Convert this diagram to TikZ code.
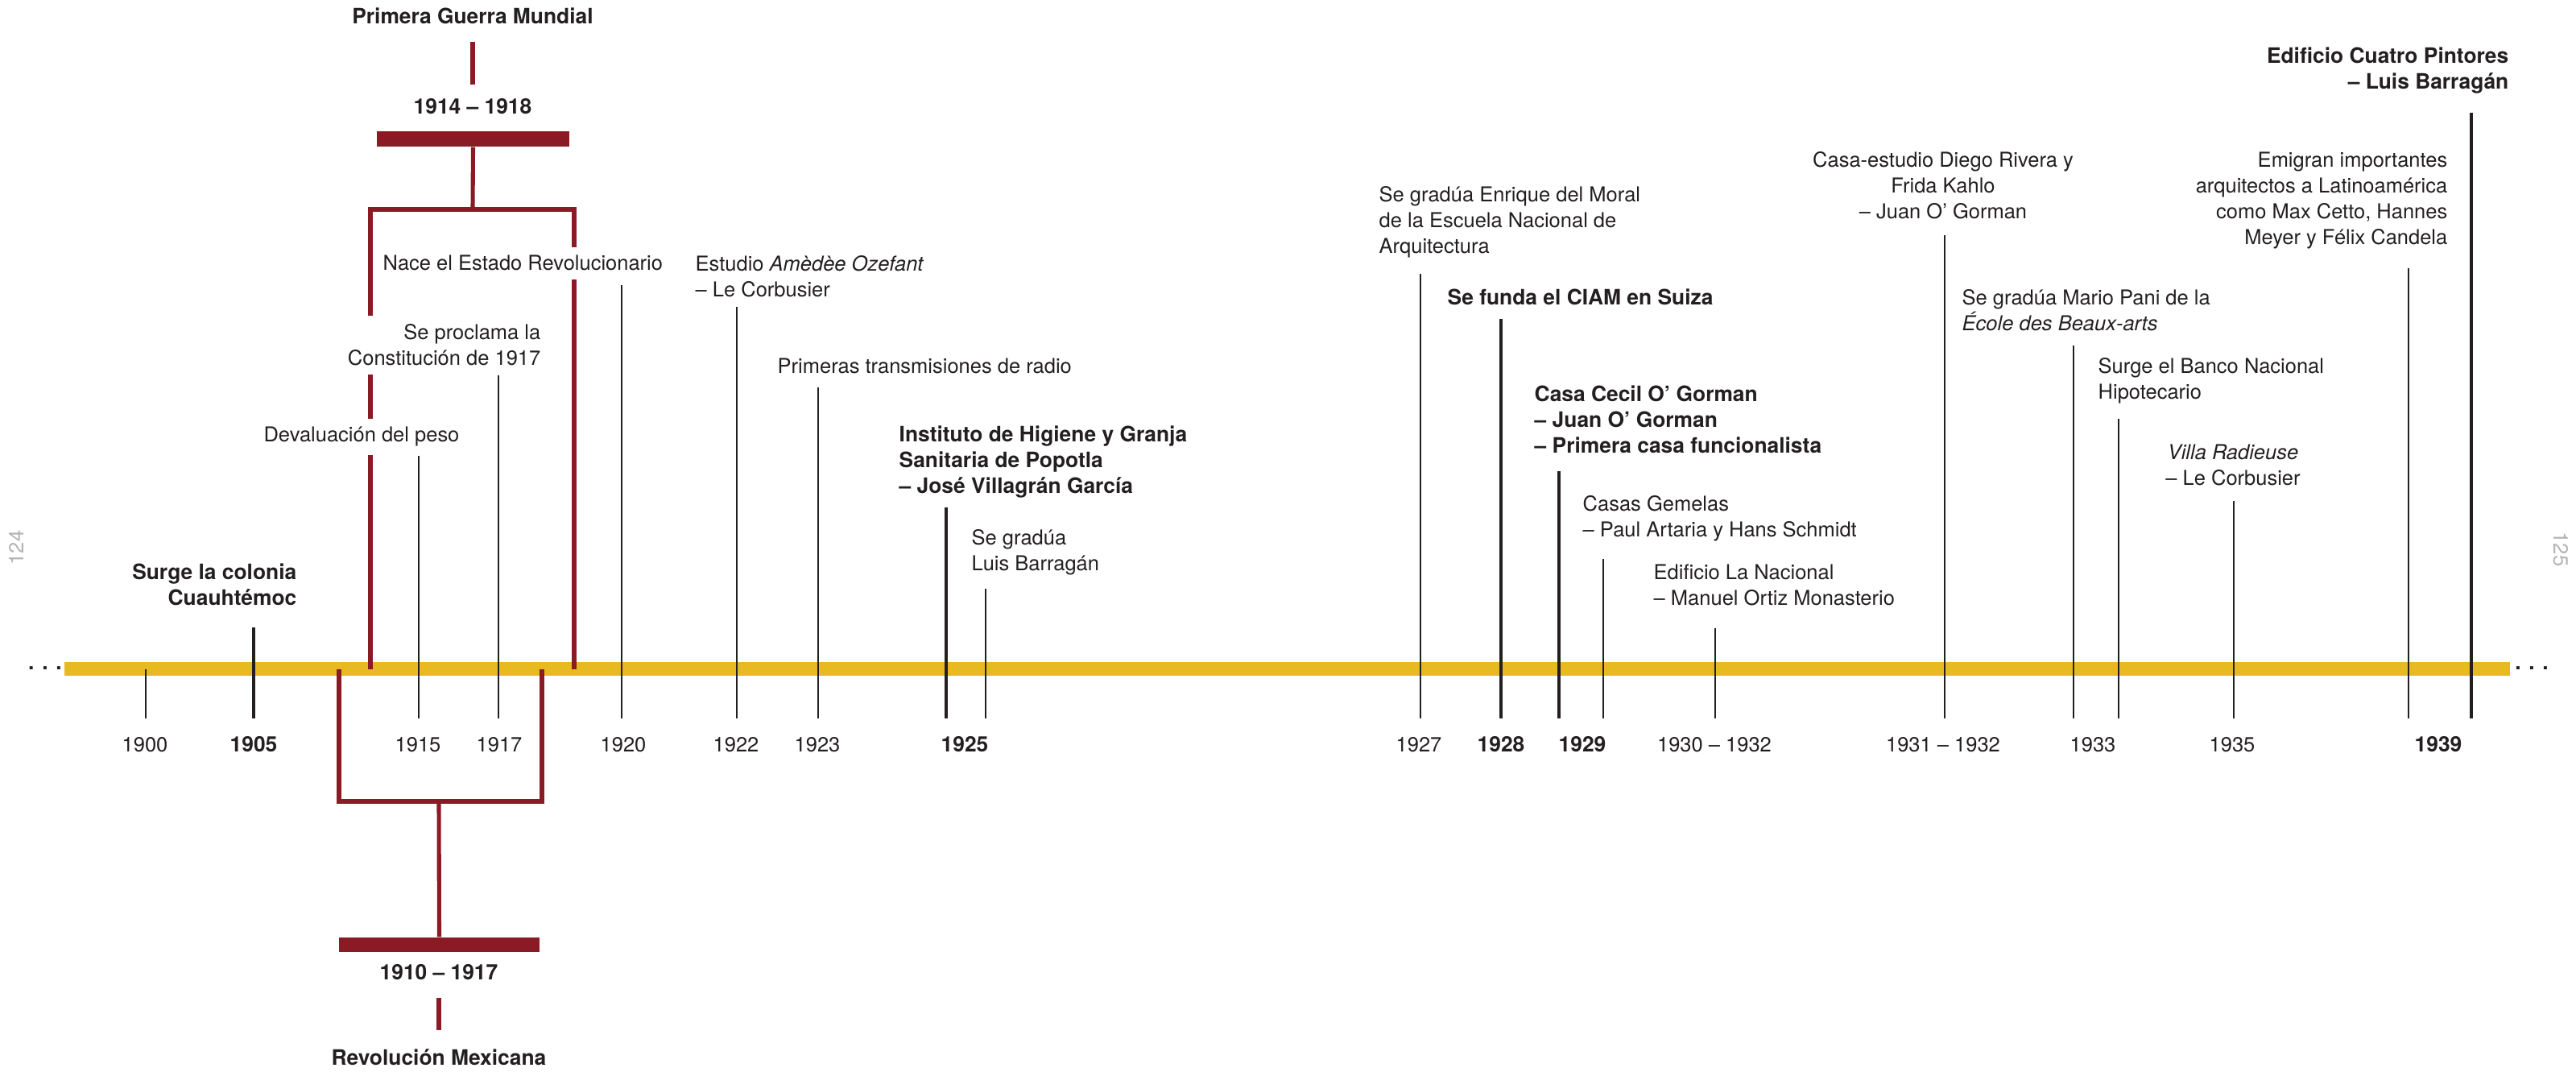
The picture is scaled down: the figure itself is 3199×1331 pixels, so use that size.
\documentclass[tikz,border=0pt]{standalone}
\usepackage{fontspec}
\setmainfont{TeX Gyre Heros}
\usetikzlibrary{calc}

\definecolor{rojo}{HTML}{8A1A24}
\definecolor{amarillo}{HTML}{E8BA22}
\definecolor{tinta}{HTML}{231F20}
\definecolor{gris}{HTML}{B4B4B4}

\tikzset{
    txt/.style={font=\fontsize{7.25}{9.1}\selectfont, text=tinta, inner sep=0pt},
    negrita/.style={txt, font=\fontsize{7.5}{9.1}\selectfont\bfseries},
    izq/.style={align=left, anchor=base west},
    der/.style={align=right, anchor=base east},
    cen/.style={align=center, anchor=base},
    tapa/.style={fill=white, inner ysep=3pt},
    anio/.style={txt, anchor=base},
    anio fuerte/.style={negrita, anchor=base},
    hito/.style={draw=tinta, line width=0.5pt},
    hito fuerte/.style={draw=tinta, line width=1.4pt},
    brazo/.style={draw=rojo, line width=1.45pt},
    barra/.style={fill=rojo, inner sep=0pt}
}

\begin{document}
\begin{tikzpicture}[x=0.01cm, y=-0.01cm]
    \useasboundingbox (0, 0) rectangle (3199, 1331);

    % linea del tiempo
    \fill[amarillo] (80, 822) rectangle (3117, 839);
    \node[negrita, anchor=base] (ini) at (56, 832) {. . .};
    \node[negrita, anchor=base] (fin) at (3144, 832) {. . .};

    % Primera Guerra Mundial
    \node[negrita, anchor=base] (pgm) at (587, 30) {Primera Guerra Mundial};
    \node[negrita, anchor=base] (agm) at (587, 142) {1914 – 1918};
    \node[barra, minimum width=2.39cm, minimum height=0.19cm] (gm) at (587.5, 172.5) {};
    \coordinate (g1) at (460, 831);
    \coordinate (g2) at (713, 831);
    \coordinate (gc) at (587, 260);
    \draw[brazo, shorten <=0.21cm, shorten >=0.17cm] (pgm.south) -- (agm.north);
    \draw[brazo] (gm.south) -- (gc);
    \draw[brazo] (g1) |- (gc) -| (g2);

    % Revolucion Mexicana
    \node[barra, minimum width=2.49cm, minimum height=0.18cm] (rm) at (545.5, 1173) {};
    \node[negrita, anchor=base] (arm) at (545, 1216) {1910 – 1917};
    \node[negrita, anchor=base] (prm) at (545, 1322) {Revolución Mexicana};
    \coordinate (r1) at (421, 831);
    \coordinate (r2) at (673, 831);
    \coordinate (rc) at (545, 995);
    \draw[brazo, shorten <=0.225cm, shorten >=0.22cm] (arm.south) -- (prm.north);
    \draw[brazo] (rc) -- (rm.north);
    \draw[brazo] (r1) |- (rc) -| (r2);

    % hitos
    \coordinate (base) at (0, 892);
    \coordinate (t1900) at (181, 831);
    \coordinate (t1905) at (315, 779);
    \coordinate (t1915) at (520, 566);
    \coordinate (t1917) at (619, 466);
    \coordinate (t1920) at (772, 354);
    \coordinate (t1922) at (915, 381);
    \coordinate (t1923) at (1016, 481);
    \coordinate (t1925) at (1175, 630);
    \coordinate (t1925b) at (1224, 731);
    \coordinate (t1927) at (1764, 340);
    \coordinate (t1928) at (1864, 396);
    \coordinate (t1929) at (1936, 585);
    \coordinate (t1929b) at (1991, 694);
    \coordinate (t1930) at (2130, 780);
    \coordinate (t1931) at (2415, 292);
    \coordinate (t1933) at (2575, 429);
    \coordinate (t1933b) at (2631, 520);
    \coordinate (t1935) at (2774, 622);
    \coordinate (t1938) at (2991, 333);
    \coordinate (t1939) at (3069, 140);

    \draw[hito] (t1900) -- (t1900 |- base);
    \draw[hito fuerte] (t1905) -- (t1905 |- base);
    \draw[hito] (t1915) -- (t1915 |- base);
    \draw[hito] (t1917) -- (t1917 |- base);
    \draw[hito] (t1920) -- (t1920 |- base);
    \draw[hito] (t1922) -- (t1922 |- base);
    \draw[hito] (t1923) -- (t1923 |- base);
    \draw[hito fuerte] (t1925) -- (t1925 |- base);
    \draw[hito] (t1925b) -- (t1925b |- base);
    \draw[hito] (t1927) -- (t1927 |- base);
    \draw[hito fuerte] (t1928) -- (t1928 |- base);
    \draw[hito fuerte] (t1929) -- (t1929 |- base);
    \draw[hito] (t1929b) -- (t1929b |- base);
    \draw[hito] (t1930) -- (t1930 |- base);
    \draw[hito] (t1931) -- (t1931 |- base);
    \draw[hito] (t1933) -- (t1933 |- base);
    \draw[hito] (t1933b) -- (t1933b |- base);
    \draw[hito] (t1935) -- (t1935 |- base);
    \draw[hito] (t1938) -- (t1938 |- base);
    \draw[hito fuerte] (t1939) -- (t1939 |- base);

    % sucesos (la base es la de la ultima linea)
    \node[negrita, der] (colonia) at (369, 752) {Surge la colonia\\Cuauhtémoc};
    \node[txt, cen, tapa] (peso) at (449, 549) {Devaluación del peso};
    \node[txt, der, tapa] (constitucion) at (672, 454) {Se proclama la\\Constitución de 1917};
    \node[txt, izq, tapa] (nace) at (475, 336) {Nace el Estado Revolucionario};
    \node[txt, izq] (ozenfant) at (863, 369) {Estudio \textit{Amèdèe Ozefant}\\– Le Corbusier};
    \node[txt, izq] (radio) at (965, 464) {Primeras transmisiones de radio};
    \node[negrita, izq] (higiene) at (1116, 613) {Instituto de Higiene y Granja\\Sanitaria de Popotla\\– José Villagrán García};
    \node[txt, izq] (barragan) at (1206, 709) {Se gradúa\\Luis Barragán};
    \node[txt, izq] (moral) at (1712, 315) {Se gradúa Enrique del Moral\\de la Escuela Nacional de\\Arquitectura};
    \node[negrita, izq] (ciam) at (1797, 379) {Se funda el CIAM en Suiza};
    \node[negrita, izq] (cecil) at (1905, 563) {Casa Cecil O’ Gorman\\– Juan O’ Gorman\\– Primera casa funcionalista};
    \node[txt, izq] (gemelas) at (1965, 667) {Casas Gemelas\\– Paul Artaria y Hans Schmidt};
    \node[txt, izq] (nacional) at (2053, 752) {Edificio La Nacional\\– Manuel Ortiz Monasterio};
    \node[txt, cen] (rivera) at (2413, 272) {Casa-estudio Diego Rivera y\\Frida Kahlo\\– Juan O’ Gorman};
    \node[txt, izq] (pani) at (2436, 411) {Se gradúa Mario Pani de la\\\textit{École des Beaux-arts}};
    \node[txt, izq] (banco) at (2605, 496) {Surge el Banco Nacional\\Hipotecario};
    \node[txt, cen] (radieuse) at (2773, 603) {\textit{Villa Radieuse}\\– Le Corbusier};
    \node[txt, der] (emigran) at (3040, 304) {Emigran importantes\\arquitectos a Latinoamérica\\como Max Cetto, Hannes\\Meyer y Félix Candela};
    \node[negrita, der] (pintores) at (3116, 111) {Edificio Cuatro Pintores\\– Luis Barragán};

    % años
    \node[anio] (a1900) at (180, 933) {1900};
    \node[anio fuerte] (a1905) at (315, 933) {1905};
    \node[anio] (a1915) at (519, 933) {1915};
    \node[anio] (a1917) at (620, 933) {1917};
    \node[anio] (a1920) at (774, 933) {1920};
    \node[anio] (a1922) at (914, 933) {1922};
    \node[anio] (a1923) at (1015, 933) {1923};
    \node[anio fuerte] (a1925) at (1198, 933) {1925};
    \node[anio] (a1927) at (1762, 933) {1927};
    \node[anio fuerte] (a1928) at (1864, 933) {1928};
    \node[anio fuerte] (a1929) at (1965, 933) {1929};
    \node[anio] (a1930) at (2129, 933) {1930 – 1932};
    \node[anio] (a1931) at (2413, 933) {1931 – 1932};
    \node[anio] (a1933) at (2599, 933) {1933};
    \node[anio] (a1935) at (2772, 933) {1935};
    \node[anio fuerte] (a1939) at (3028, 933) {1939};

    % folios
    \node[txt, text=gris, rotate=90] (p124) at (20, 680) {124};
    \node[txt, text=gris, rotate=-90] (p125) at (3180, 682) {125};
\end{tikzpicture}
\end{document}
